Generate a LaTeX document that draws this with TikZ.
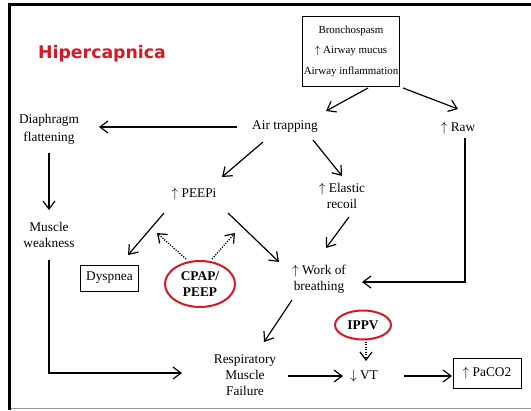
\documentclass[tikz,border=0pt]{standalone}
\usepackage{fontspec}
\setmainfont{Liberation Serif}
\newfontfamily\titlefont{DejaVu Sans}
\usetikzlibrary{arrows.meta,shapes.geometric,calc}
\definecolor{hiRed}{RGB}{215,25,35}
\definecolor{frameGrey}{RGB}{150,150,150}
\tikzset{
  txt/.style={align=center, inner sep=1pt, font=\fontsize{10}{12}\selectfont},
  boxed/.style={txt, draw, line width=0.6pt},
  redoval/.style={ellipse, draw=hiRed, line width=1.5pt, align=center, inner sep=0pt, font=\bfseries\fontsize{10}{12}\selectfont},
  arr/.style={-{Straight Barb[length=6pt,width=9pt,line width=0.9pt]}, line width=0.9pt},
  heavyarr/.style={arr, line width=1.5pt},
  dotarr/.style={arr, densely dotted}
}

\begin{document}
\begin{tikzpicture}[x=0.75pt,y=0.75pt,yscale=-1,xscale=1]
\useasboundingbox (0,0) rectangle (531,410);

%Frame
\draw [line width=2.25pt] (531,4.5) -- (9.5,4.5) -- (9.5,410) ;
\draw [frameGrey, line width=0.75pt] (11,408) -- (531,408) ;

% Text Node
\node [txt, font=\titlefont\bfseries\fontsize{13}{15}\selectfont, text=hiRed] (title) at (102,54) {Hipercapnica};
%Shape: Rectangle
\node [boxed, minimum width=72.75pt, minimum height=52.5pt, font=\fontsize{8.2}{15.4}\selectfont] (cause) at (351,51) {Bronchospasm\\$\uparrow$ Airway mucus\\Airway inflammation};
% Text Node
\node [txt] (air) at (285,127) {Air trapping};
% Text Node
\node [txt] (raw) at (458,128) {$\uparrow$ Raw};
% Text Node
\node [txt, font=\fontsize{10}{13.5}\selectfont] (diaph) at (49,129) {Diaphragm\\flattening};
% Text Node
\node [txt] (peepi) at (194,194) {$\uparrow$ PEEPi};
% Text Node
\node [txt] (elastic) at (342,196) {$\uparrow$ Elastic\\recoil};
% Text Node
\node [txt] (muscle) at (49,235) {Muscle\\weakness};
%Shape: Rectangle
\node [boxed, minimum width=43.5pt, minimum height=19.5pt] (dysp) at (109.5,278) {Dyspnea};
%Shape: Ellipse
\node [redoval, minimum width=52.5pt, minimum height=34.5pt] (cpap) at (200,284) {CPAP/\\PEEP};
% Text Node
\node [txt] (work) at (319,279) {$\uparrow$ Work of\\breathing};
%Shape: Ellipse
\node [redoval, minimum width=42pt, minimum height=21.75pt] (ippv) at (363,325) {IPPV};
% Text Node
\node [txt] (resp) at (245,375) {Respiratory\\Muscle\\Failure};
% Text Node
\node [txt] (vt) at (364,376) {$\downarrow$ VT};
%Shape: Rectangle
\node [boxed, minimum width=51pt, minimum height=22.5pt] (paco2) at (487,373) {$\uparrow$ PaCO2};

%Straight Lines
\draw [arr] ($(cause)+(17,37)$) -- ($(air)+(41,-16)$) ;
\draw [arr] ($(cause)+(52,37)$) -- ($(raw)+(0,-19)$) ;
\draw [arr] ($(air)+(-48,0)$) -- ($(diaph)+(50,-2)$) ;
\draw [arr] ($(air)+(-22,15)$) -- ($(peepi)+(28,-17)$) ;
\draw [arr] ($(air)+(28,13)$) -- ($(elastic)+(0,-20)$) ;
\draw [arr] ($(diaph)+(0,24)$) -- ($(muscle)+(0,-25)$) ;
\draw [arr] ($(peepi)+(-30,19)$) -- ($(dysp)+(18.5,-23)$) ;
\draw [arr] ($(peepi)+(34,19)$) -- ($(work)+(-40,-17)$) ;
\draw [arr] ($(elastic)+(7,21)$) -- ($(work)+(7,-31)$) ;
\draw [arr] ($(raw)+(7,10)$) |- ($(work)+(43,3)$) ;
\draw [arr] ($(work)+(-27,21)$) -- ($(resp)+(19,-33)$) ;
\draw [heavyarr] ($(muscle)+(0,25)$) |- ($(resp)+(-63,-2)$) ;
\draw [heavyarr] ($(resp)+(43,1)$) -- ($(vt)+(-21,0)$) ;
\draw [heavyarr] ($(vt)+(40,0)$) -- ($(paco2)+(-35,3)$) ;

%Dotted Lines
\draw [dotarr] ($(cpap)+(-14,-25)$) -- ($(peepi)+(-37,39)$) ;
\draw [dotarr] ($(cpap)+(12,-25)$) -- ($(peepi)+(41,39)$) ;
\draw [dotarr] ($(ippv)+(3,14)$) -- ($(vt)+(2,-15)$) ;

\end{tikzpicture}
\end{document}
